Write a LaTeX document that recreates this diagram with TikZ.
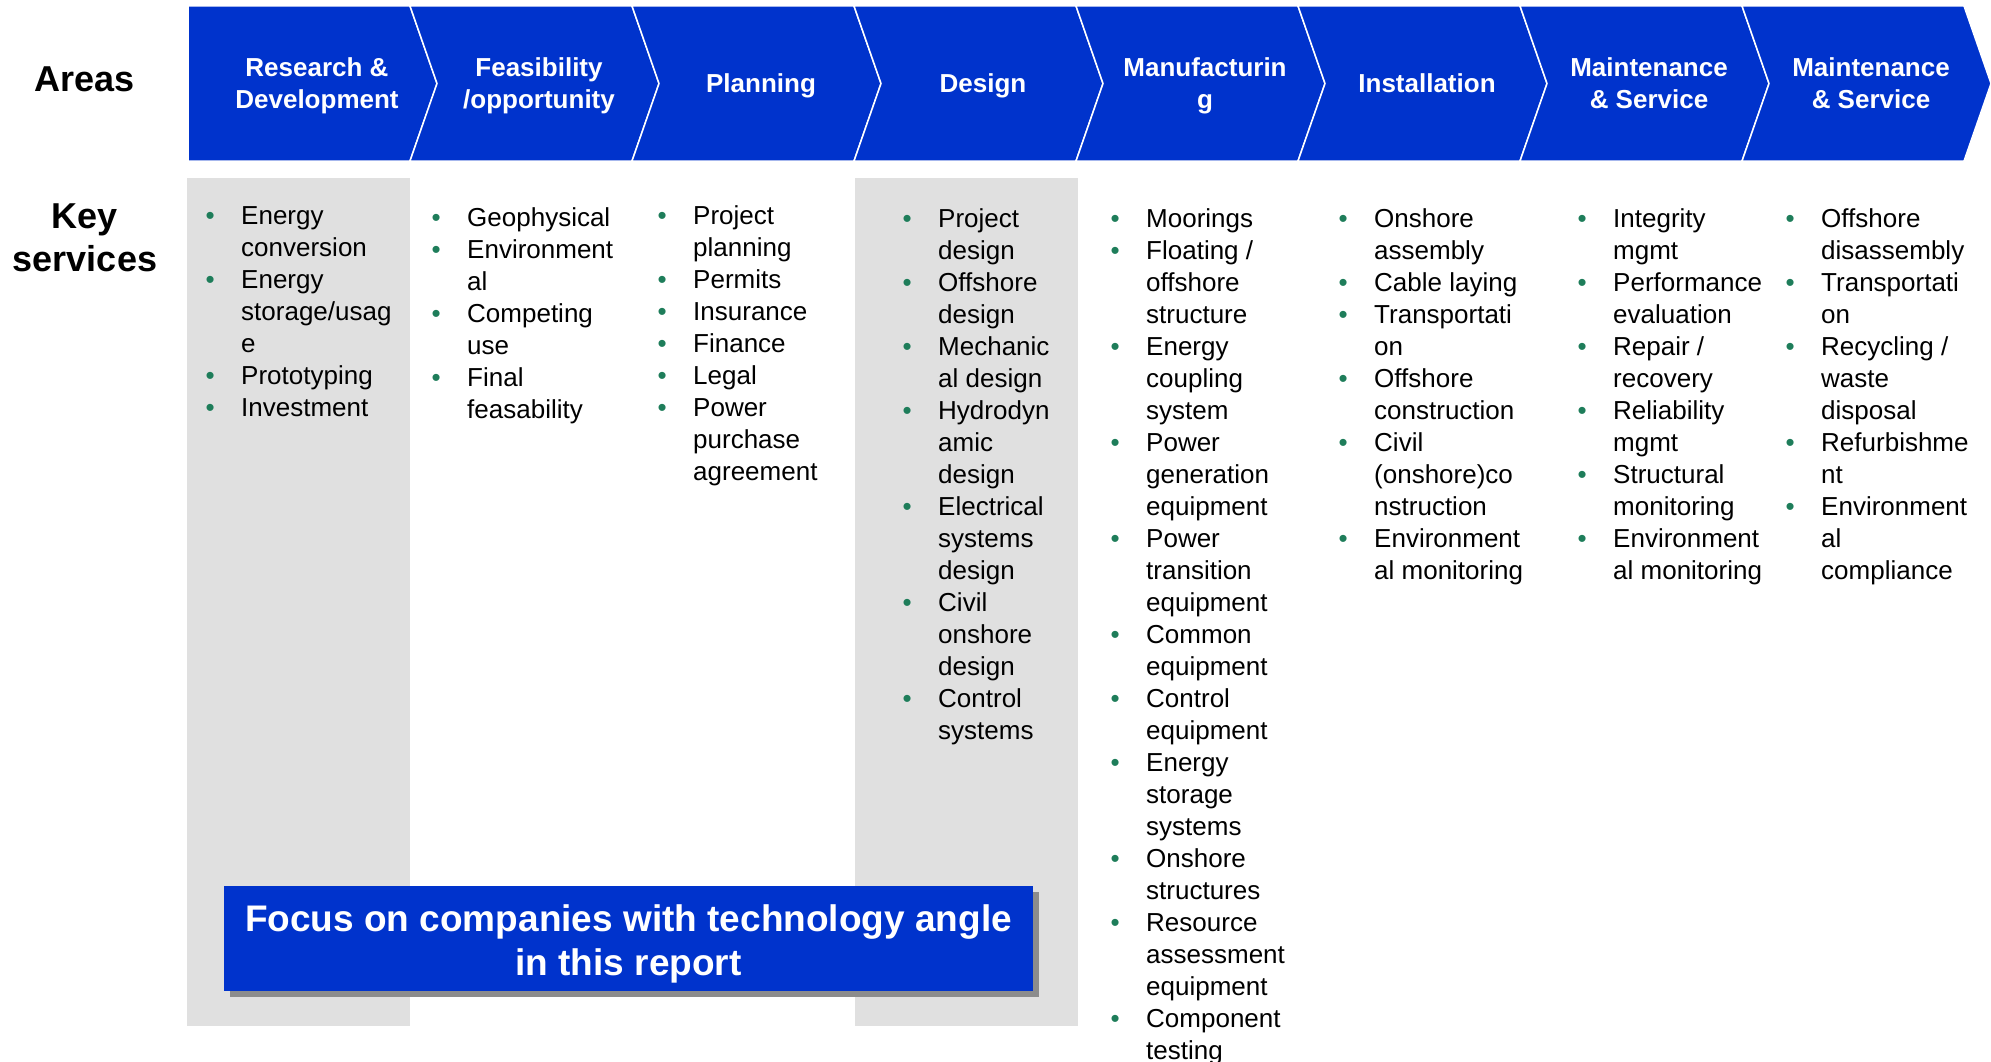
\documentclass[tikz,border=0pt]{standalone}
\usepackage{fontspec}
\setmainfont{Liberation Sans}
\usetikzlibrary{shadows}
\definecolor{areablue}{RGB}{0,51,204}
\definecolor{colgray}{RGB}{224,224,224}
\definecolor{bulgreen}{RGB}{30,125,90}
\definecolor{shadowgray}{RGB}{140,140,140}
\newcommand{\bul}{\textcolor{bulgreen}{•}}
\newcommand{\svclist}[1]{\begin{tabular}[t]{@{}l@{\hspace{26.4pt}}l@{}}#1\end{tabular}}

\begin{document}
\begin{tikzpicture}[x=1pt,y=-1pt,
    areatext/.style={text=white,font=\bfseries\fontsize{26}{32}\selectfont,align=center,inner sep=0pt},
    coltext/.style={font=\fontsize{26}{32}\selectfont,anchor=base west,inner sep=0pt},
    rowlabel/.style={font=\bfseries\fontsize{36}{43}\selectfont,align=center,inner sep=0pt}]
      \useasboundingbox (0,0) rectangle (1991,1062);

      %%%%%%%%%%%%%%%%%%%%%%%%%%%%%%%%%%%%%%%%%%%%%%%%%%%%%%%%%%%%%%%%%%%%%%%%%%%
      %%%%  Gray columns
      \fill[colgray] (187,178) rectangle (410,1026);
      \fill[colgray] (855,178) rectangle (1078,1026);

      %%%%%%%%%%%%%%%%%%%%%%%%%%%%%%%%%%%%%%%%%%%%%%%%%%%%%%%%%%%%%%%%%%%%%%%%%%%
      %%%%  Chevrons
      \foreach \i/\txt in {0/{Research \&\\Development},1/{Feasibility\\/opportunity},
        2/{Planning},3/{Design},4/{Manufacturin\\g},5/{Installation},
        6/{Maintenance\\\& Service},7/{Maintenance\\\& Service}}
       {\pgfmathsetmacro\xl{188 + 222*\i}
        \pgfmathsetmacro\xr{\xl + 222}
        \pgfmathsetmacro\dl{ifthenelse(\i==0,0,27)}

        \draw[fill=areablue,draw=white,line width=1.5pt] (\xl,6) -- (\xr,6) -- (\xr+27,83.5)
          -- (\xr,161) -- (\xl,161) -- (\xl+\dl,83.5) -- cycle;
        \node[areatext] (area\i) at ({(\xl+\xr)/2+18},86.5) {\strut\txt\strut};
       };

      \node[rowlabel] (areas) at (85,79) {Areas};
      \node[rowlabel] (keysvc) at (85,238) {Key\\services};

      %%%%%%%%%%%%%%%%%%%%%%%%%%%%%%%%%%%%%%%%%%%%%%%%%%%%%%%%%%%%%%%%%%%%%%%%%%%
      %%%%  Key services
      \node[coltext] (rnd) at (205.5,224) {\svclist{%
        \bul & Energy\\ & conversion\\ \bul & Energy\\ & storage/usag\\ & e\\
        \bul & Prototyping\\ \bul & Investment}};
      \node[coltext] (feas) at (431.5,226) {\svclist{%
        \bul & Geophysical\\ \bul & Environment\\ & al\\ \bul & Competing\\ & use\\
        \bul & Final\\ & feasability}};
      \node[coltext] (plan) at (657.5,224) {\svclist{%
        \bul & Project\\ & planning\\ \bul & Permits\\ \bul & Insurance\\ \bul & Finance\\
        \bul & Legal\\ \bul & Power\\ & purchase\\ & agreement}};
      \node[coltext] (design) at (902.5,227) {\svclist{%
        \bul & Project\\ & design\\ \bul & Offshore\\ & design\\ \bul & Mechanic\\ & al design\\
        \bul & Hydrodyn\\ & amic\\ & design\\ \bul & Electrical\\ & systems\\ & design\\
        \bul & Civil\\ & onshore\\ & design\\ \bul & Control\\ & systems}};
      \node[coltext] (manuf) at (1110.5,227) {\svclist{%
        \bul & Moorings\\ \bul & Floating /\\ & offshore\\ & structure\\
        \bul & Energy\\ & coupling\\ & system\\ \bul & Power\\ & generation\\ & equipment\\
        \bul & Power\\ & transition\\ & equipment\\ \bul & Common\\ & equipment\\
        \bul & Control\\ & equipment\\ \bul & Energy\\ & storage\\ & systems\\
        \bul & Onshore\\ & structures\\ \bul & Resource\\ & assessment\\ & equipment\\
        \bul & Component\\ & testing}};
      \node[coltext] (install) at (1338.5,227) {\svclist{%
        \bul & Onshore\\ & assembly\\ \bul & Cable laying\\ \bul & Transportati\\ & on\\
        \bul & Offshore\\ & construction\\ \bul & Civil\\ & (onshore)co\\ & nstruction\\
        \bul & Environment\\ & al monitoring}};
      \node[coltext] (maint) at (1577.5,227) {\svclist{%
        \bul & Integrity\\ & mgmt\\ \bul & Performance\\ & evaluation\\ \bul & Repair /\\ & recovery\\
        \bul & Reliability\\ & mgmt\\ \bul & Structural\\ & monitoring\\
        \bul & Environment\\ & al monitoring}};
      \node[coltext] (decom) at (1785.5,227) {\svclist{%
        \bul & Offshore\\ & disassembly\\ \bul & Transportati\\ & on\\ \bul & Recycling /\\ & waste\\ & disposal\\
        \bul & Refurbishme\\ & nt\\ \bul & Environment\\ & al\\ & compliance}};

      %%%%%%%%%%%%%%%%%%%%%%%%%%%%%%%%%%%%%%%%%%%%%%%%%%%%%%%%%%%%%%%%%%%%%%%%%%%
      %%%%  Focus box
      \node[fill=areablue,minimum width=809pt,minimum height=105pt,inner sep=0pt,
        drop shadow={shadow xshift=6pt,shadow yshift=-6pt,fill=shadowgray,opacity=1}]
        (focus) at (628.5,938.5) {};
      \node[text=white,align=center,inner sep=0pt,font=\bfseries\fontsize{37}{44}\selectfont]
        (focustext) at (628.5,944) {Focus on companies with technology angle\\in this report};
    \end{tikzpicture}
\end{document}
